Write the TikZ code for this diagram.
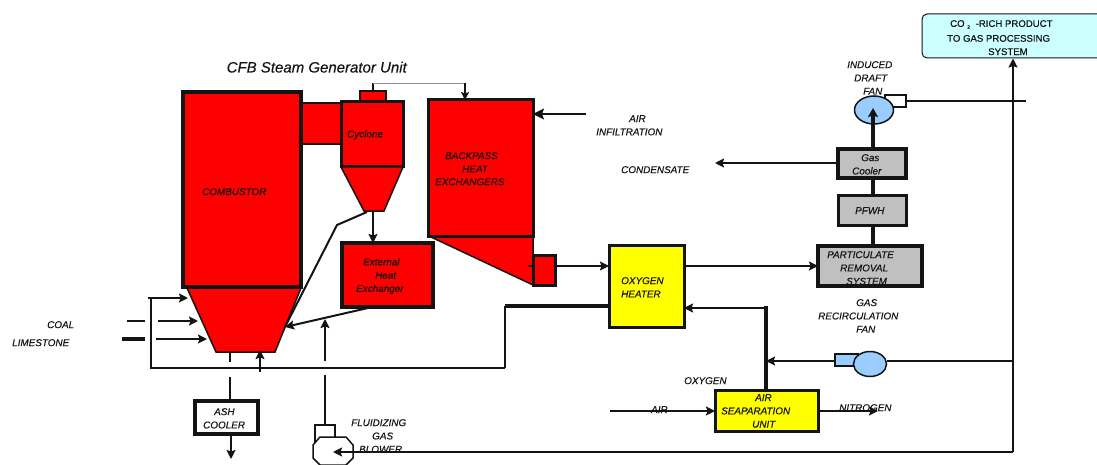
\documentclass[tikz,border=0pt]{standalone}
\usepackage{fontspec}
\setmainfont[ItalicFeatures={FakeBold=0.35},UprightFeatures={FakeBold=0.35}]{Liberation Sans}
\usetikzlibrary{arrows.meta,shapes.geometric}
\definecolor{rd}{RGB}{255,0,0}
\definecolor{yl}{RGB}{255,255,0}
\definecolor{gy}{RGB}{192,192,192}
\definecolor{bl}{RGB}{153,204,255}
\definecolor{cy}{RGB}{204,255,255}
\definecolor{ink}{RGB}{20,20,20}
\tikzset{
 box/.style={draw=ink,line width=#1,rectangle,inner sep=0pt,outer sep=0pt},
 box/.default=3pt,
 lbl/.style={inner sep=0pt,anchor=north west,align=left,text=ink,font=\fontsize{9.9}{13.3}\selectfont\itshape},
 lblr/.style={inner sep=0pt,anchor=north west,align=left,text=ink,font=\fontsize{9.6}{13.3}\selectfont},
 flow/.style={draw=ink,line width=2pt,-{Stealth[length=9pt,width=9pt,inset=1.5pt]}},
 pipe/.style={draw=ink,line width=2pt},
 heavy/.style={draw=ink,line width=3.5pt},
 heavyflow/.style={draw=ink,line width=3.5pt,-{Stealth[length=9pt,width=10pt,inset=1.5pt]}},
}
\newcommand{\rectnode}[8]{% name, fill, lw, x1,y1,x2,y2, text (unused when empty)
 \pgfmathsetlengthmacro{\rw}{#6-#4}\pgfmathsetlengthmacro{\rh}{#7-#5}
 \node[box=#3,fill=#2,minimum width=\rw,minimum height=\rh] (#1) at ({(#4+#6)/2},{(#5+#7)/2}) {#8};}
\begin{document}
\begin{tikzpicture}[x=1pt,y=-1pt]
\useasboundingbox (0,0) rectangle (1097,465);
\clip (0,0) rectangle (1097,465);
% ---- red units
\rectnode{duct}{rd}{2.5pt}{301}{103}{341}{144}{}
\rectnode{comb}{rd}{3.5pt}{183}{92}{301}{287}{}
\coordinate (hopTL) at (187,288);\coordinate (hopTR) at (301,288);
\coordinate (hopBR) at (275,352);\coordinate (hopBL) at (216,352);
\draw[draw=ink,line width=1.5pt,fill=rd] (hopTL)--(hopTR)--(hopBR)--(hopBL)--cycle;
\rectnode{cyctop}{rd}{2.5pt}{360}{91}{386}{102}{}
\rectnode{cyc}{rd}{3pt}{341}{102}{403}{167}{}
\coordinate (coneTL) at (341,167);\coordinate (coneTR) at (403,167);
\coordinate (coneBR) at (384,211);\coordinate (coneBL) at (364,211);
\draw[draw=ink,line width=1.5pt,fill=rd] (coneTL)--(coneTR)--(coneBR)--(coneBL)--cycle;
\rectnode{back}{rd}{3pt}{428}{100}{533}{236}{}
\coordinate (bpA) at (431,237);\coordinate (bpB) at (533,237);\coordinate (bpC) at (533,285);
\draw[draw=ink,line width=1.5pt,fill=rd] (bpA)--(bpB)--(bpC)--cycle;
\rectnode{small}{rd}{3pt}{533}{255}{555}{285}{}
\rectnode{ehe}{rd}{3.5pt}{342}{243}{433}{307}{}
% ---- other units
\rectnode{ash}{white}{3.5pt}{195}{401}{258}{434}{}
\rectnode{oxh}{yl}{3pt}{609}{245}{684}{327}{}
\rectnode{prs}{gy}{3.5pt}{818}{246}{922}{286}{}
\rectnode{pfwh}{gy}{3pt}{838}{196}{906}{225}{}
\rectnode{gc}{gy}{3.5pt}{838}{149}{906}{178}{}
\rectnode{asu}{yl}{3pt}{715}{390}{818}{431}{}
\node[draw=ink,line width=1pt,fill=cy,rounded corners=5pt,inner sep=0pt,minimum width=190pt,minimum height=44pt] (prod) at (1017,36) {};
% ---- fans
\rectnode{idout}{white}{2.5pt}{885}{95}{906}{107}{}
\node[draw=ink,line width=1.5pt,fill=bl,ellipse,inner sep=0pt,minimum width=39pt,minimum height=28pt] (idfan) at (874,110) {};
\rectnode{grout}{bl}{2.5pt}{835}{354}{858}{366}{}
\node[draw=ink,line width=1.5pt,fill=bl,ellipse,inner sep=0pt,minimum width=33pt,minimum height=25pt] (grfan) at (870,364) {};
\rectnode{blbox}{white}{2pt}{315}{425}{335}{445}{}
\coordinate (blower) at (333,452);
\draw[draw=ink,line width=1.5pt,fill=white] (320,437)--(346,437)--(353,445)--(353,458)--(346,465)--(320,465)--(313,458)--(313,445)--cycle;
% ---- junctions and free ends
\coordinate (topA) at (373,83);\coordinate (topB) at (465,83);
\coordinate (entry) at (285,327);
\coordinate (kink) at (337,225);
\coordinate (rL) at (151,368);\coordinate (rT) at (151,298);\coordinate (rT0) at (148,298);
\coordinate (hopIn) at (188,298);
\coordinate (rR) at (505,368);\coordinate (rU) at (505,306);
\coordinate (rOx) at (609,306);
% ---- connectors
\draw[pipe] (cyctop.north -| topA) -- (topA);
\draw[draw=ink!45,line width=.8pt] (topA) -- (topB);
\draw[draw=ink,line width=1.5pt,-{Stealth[length=8pt,width=8pt,inset=1.5pt]}] (topB) -- (topB |- back.north);
\coordinate (airE) at (586,114);
\draw[draw=ink,line width=2pt,-{Stealth[length=11pt,width=11pt,inset=2pt]}] (airE) -- (back.east |- airE);
\draw[pipe] (528,266) -- (small.west |- 0,266);
\draw[flow] (small.east |- 0,266) -- (oxh.west |- 0,266);
\draw[flow] (oxh.east |- 0,266) -- (prs.west |- 0,266);
\draw[flow] (373,211) -- (373,243);
\draw[pipe] (367,212) -- (kink) -- (entry);
\draw[flow] (368,308) -- (entry);
% coal, limestone
\coordinate (coalA) at (127,321);\coordinate (coalB) at (145,321);\coordinate (coalC) at (158,321);\coordinate (coalD) at (198,321);
\coordinate (limeA) at (122,339);\coordinate (limeB) at (145,339);\coordinate (limeC) at (156,339);\coordinate (limeD) at (207,339);
\draw[pipe] (coalA)--(coalB);
\draw[flow] (coalC)--(coalD);
\draw[heavy,line width=4pt] (limeA)--(limeB);
\draw[flow] (limeC)--(limeD);
% recycle
\draw[pipe] (rR) -- (rL) -- (rT);
\draw[flow] (rT0) -- (hopIn);
\draw[heavy] (rOx) -- (rU);
\draw[pipe] (rU) -- (rR);
\coordinate (upA) at (260,372);\coordinate (upB) at (260,350);
\draw[flow] (upA)--(upB);
\coordinate (fl1) at (325,361);\coordinate (fl2) at (325,319);\coordinate (fl3) at (325,375);
\draw[flow] (fl1)--(fl2);
\draw[pipe] (fl3) -- (fl3 |- blbox.north);
% ash
\coordinate (asA) at (230,352);\coordinate (asB) at (230,362);\coordinate (asC) at (230,377);\coordinate (asD) at (231,459);
\draw[pipe] (asA)--(asB);
\draw[pipe] (asC)--(asC |- ash.north);
\draw[flow] (asD |- ash.south)--(asD);
% right column
\coordinate (main) at (1013,452);
\draw[draw=ink,line width=2pt] (main) -- (1013,70);
\draw[flow] (1013,70) -- (prod.south -| 1013,0);
\draw[flow] (main) -- (blower);
\coordinate (idE) at (1026,101);
\draw[pipe] (idout.east |- idE) -- (idE);
\draw[heavyflow] (gc.north -| 873,0) -- (873,108);
\draw[heavy] (gc.south -| 873,0) -- (pfwh.north -| 873,0);
\draw[heavy] (pfwh.south -| 873,0) -- (prs.north -| 873,0);
\coordinate (condE) at (715,163);
\draw[flow] (gc.west |- condE) -- (condE);
\coordinate (jn) at (1013,361);
\coordinate (o2) at (766,361);
\draw[pipe] (jn) -- (grfan.east |- jn);
\draw[flow] (grout.west |- jn) -- (o2);
\coordinate (oxR) at (766,308);
\draw[heavy,line cap=rect] (asu.north -| oxR) -- (oxR);
\draw[draw=ink,line width=2.5pt,-{Stealth[length=9pt,width=9pt,inset=1.5pt]}] (oxR) -- (oxh.east |- oxR);
\coordinate (airW) at (610,411);
\draw[flow] (airW) -- (asu.west |- airW);
\coordinate (niE) at (878,411);
\draw[flow] (asu.east |- niE) -- (niE);
% ---- labels
\node[inner sep=0pt,anchor=base west,text=ink,font=\fontsize{15}{16}\selectfont\itshape] (title) at (226.5,72.5) {CFB Steam Generator Unit};
\node[lbl] (tcomb) at (202,188) {COMBUSTOR};
\node[lbl] (tcyc) at (347,130) {Cyclone};
\node[lbl] (tback) at (445,152) {BACKPASS\\\hspace*{17pt}HEAT\\[-.5pt]\hspace*{-10pt}EXCHANGERS};
\node[lbl] (tehe) at (363,258) {External\\\hspace*{12pt}Heat\\\hspace*{-7pt}Exchanger};
\node[lbl] (tair) at (628,115) {\hspace*{1pt}AIR\\\hspace*{-32pt}INFILTRATION};
\node[lbl] (tcond) at (621,166) {CONDENSATE};
\node[lbl] (tcoal) at (47,321) {COAL};
\node[lbl] (tlime) at (12,339) {LIMESTONE};
\node[lbl] (tash) at (214,408) {ASH\\\hspace*{-11pt}COOLER};
\node[lbl] (tblow) at (351,419) {FLUIDIZING\\\hspace*{21pt}GAS\\\hspace*{8pt}BLOWER};
\node[lbl] (tox) at (684,377) {OXYGEN};
\node[lbl] (tasu) at (755,394) {AIR\\\hspace*{-34pt}SEAPARATION\\\hspace*{-3pt}UNIT};
\node[lbl] (tairb) at (651,406) {AIR};
\node[lbl] (tnit) at (839,404) {NITROGEN};
\node[lbl] (toxh) at (621,277) {OXYGEN\\HEATER};
\node[lbl] (tprs) at (827,251) {PARTICULATE\\\hspace*{13pt}REMOVAL\\\hspace*{19pt}SYSTEM};
\node[lbl] (tgr) at (856,299) {GAS\\\hspace*{-38pt}RECIRCULATION\\FAN};
\node[lbl] (tid) at (847,61) {INDUCED\\\hspace*{7pt}DRAFT\\\hspace*{16pt}FAN};
\node[lbl] (tgc) at (861,154) {Gas\\\hspace*{-9pt}Cooler};
\node[lbl] (tpf) at (855,207) {PFWH};
\node[lblr] (tprod) at (950,20) {CO \raisebox{-2pt}{\fontsize{5}{5}\selectfont 2}\hspace{3pt} -RICH PRODUCT\\[1.5pt]\hspace*{-3pt}TO GAS PROCESSING\\\hspace*{38pt}SYSTEM};
\end{tikzpicture}
\end{document}
